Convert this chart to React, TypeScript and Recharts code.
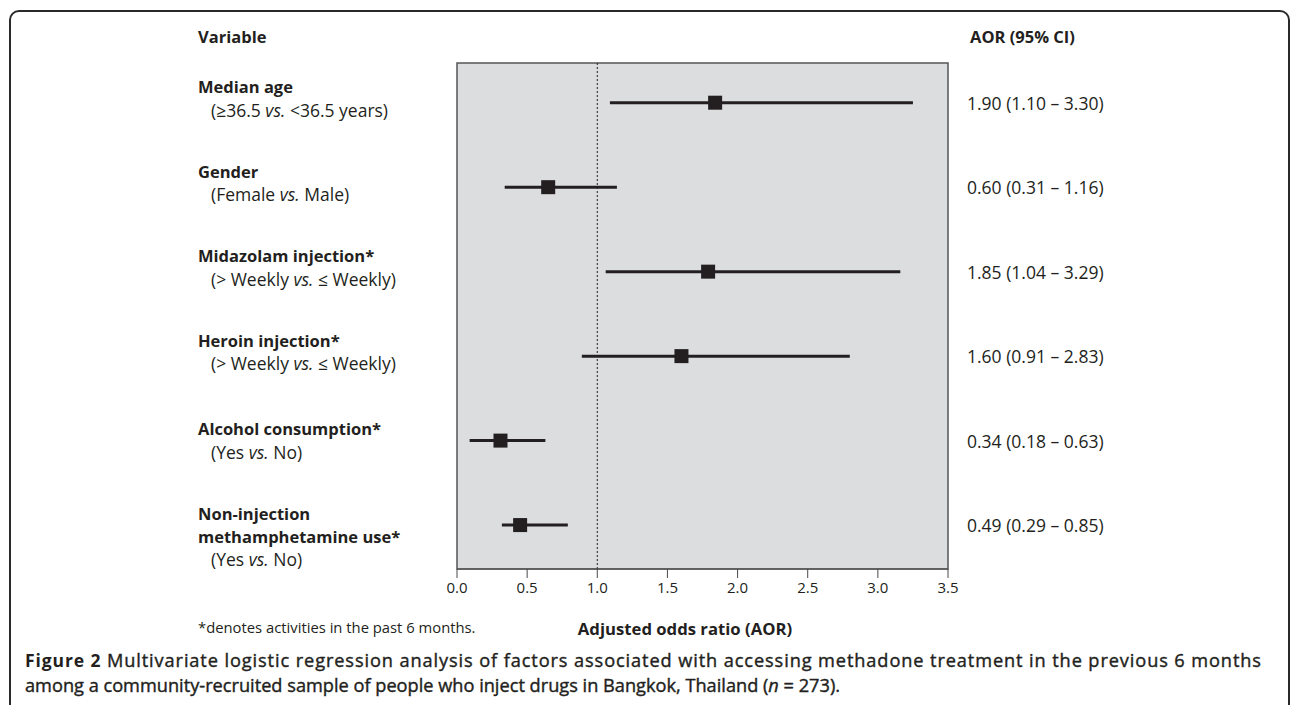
import React from 'react';
import { ComposedChart, Scatter, XAxis, YAxis, ReferenceLine, ReferenceArea, CartesianGrid } from 'recharts';

// ---- data ----
const variableTitles: string[][] = [
  ['Median age'],
  ['Gender'],
  ['Midazolam injection*'],
  ['Heroin injection*'],
  ['Alcohol consumption*'],
  ['Non-injection', 'methamphetamine use*'],
];
const compareLeft = ['≥36.5', 'Female', '> Weekly', '> Weekly', 'Yes', 'Yes'];
const compareRight = ['<36.5 years', 'Male', '≤ Weekly', '≤ Weekly', 'No', 'No'];
// positions of the marks
const aorValues = [1.84, 0.65, 1.79, 1.6, 0.31, 0.45];
const ciLower = [1.09, 0.34, 1.06, 0.89, 0.09, 0.32];
const ciUpper = [3.25, 1.14, 3.16, 2.8, 0.63, 0.79];
// printed estimates
const aorLabels = [
  '1.90 (1.10 – 3.30)',
  '0.60 (0.31 – 1.16)',
  '1.85 (1.04 – 3.29)',
  '1.60 (0.91 – 2.83)',
  '0.34 (0.18 – 0.63)',
  '0.49 (0.29 – 0.85)',
];
const xTicks = [0, 0.5, 1, 1.5, 2, 2.5, 3, 3.5];
const rowIndex = [0, 1, 2, 3, 4, 5];

const FONT = "'Open Sans', sans-serif";
const INK = '#231f20';
const Y_DOMAIN: [number, number] = [-0.47, 5.52];
const BOLD_SIZE = 16.5;
const REG_SIZE = 17.5;

const points = aorValues.map((v, i) => ({ x: v, y: i }));

const LeftTick = (props: any) => {
  const i = props.payload.value as number;
  const y = props.y as number;
  const first = y + (i >= 4 ? -12 : -16);
  const titles = variableTitles[i];
  const step = 23;
  return (
    <g>
      {titles.map((t, k) => (
        <text key={k} x={198} y={first + k * step} fill={INK} fontFamily={FONT} fontSize={BOLD_SIZE} fontWeight={700} dominantBaseline="central">
          {t}
        </text>
      ))}
      <text x={211} y={first + titles.length * step} fill={INK} fontFamily={FONT} fontSize={REG_SIZE} dominantBaseline="central">
        <tspan>{'(' + compareLeft[i] + ' '}</tspan>
        <tspan fontStyle="italic">vs.</tspan>
        <tspan>{' ' + compareRight[i] + ')'}</tspan>
      </text>
    </g>
  );
};

const RightTick = (props: any) => {
  const i = props.payload.value as number;
  return (
    <text x={967} y={props.y} fill={INK} fontFamily={FONT} fontSize={REG_SIZE} dominantBaseline="central">
      {aorLabels[i]}
    </text>
  );
};

const Square = (p: any) => <rect x={p.cx - 7} y={p.cy - 7} width={14} height={14} fill={INK} />;

export default function App() {
  return (
    <div style={{ position: 'absolute', left: 0, top: 0, width: 1290, height: 705, overflow: 'hidden', background: '#fff' }}>
      <div
        style={{
          position: 'absolute',
          left: 9,
          top: 10,
          width: 1281,
          height: 800,
          border: '2px solid #2a2a2a',
          borderRadius: 10,
          boxSizing: 'border-box',
        }}
      />
      <div style={{ position: 'absolute', left: 0, top: 0 }}>
        <ComposedChart width={1290} height={705} data={points} margin={{ top: 63, right: 341, bottom: 106, left: 456 }}>
          <CartesianGrid fill="#dcdddf" horizontal={false} vertical={false} />
          <XAxis
            type="number"
            dataKey="x"
            domain={[0, 3.5]}
            ticks={xTicks}
            allowDataOverflow
            interval={0}
            height={30}
            tickSize={9}
            tickMargin={4}
            tickFormatter={(v: number) => v.toFixed(1)}
            stroke="#4a4a4a"
            tick={{ fill: INK, fontSize: 15, fontFamily: FONT }}
          />
          <YAxis
            yAxisId="l"
            type="number"
            dataKey="y"
            domain={Y_DOMAIN}
            reversed
            allowDataOverflow
            ticks={rowIndex}
            interval={0}
            width={1}
            axisLine={false}
            tickLine={false}
            tick={<LeftTick />}
          />
          <YAxis
            yAxisId="r"
            orientation="right"
            type="number"
            domain={Y_DOMAIN}
            reversed
            allowDataOverflow
            ticks={rowIndex}
            interval={0}
            width={1}
            axisLine={false}
            tickLine={false}
            tick={<RightTick />}
          />
          <ReferenceArea yAxisId="l" x1={0} x2={3.5} y1={Y_DOMAIN[0]} y2={Y_DOMAIN[1]} fill="none" stroke="#555" strokeWidth={1.5} ifOverflow="visible" />
          <ReferenceLine yAxisId="l" x={1} stroke={INK} strokeWidth={1} strokeDasharray="2 2" />
          {rowIndex.map((i) => (
            <ReferenceLine
              key={i}
              yAxisId="l"
              segment={[
                { x: ciLower[i], y: i },
                { x: ciUpper[i], y: i },
              ]}
              stroke={INK}
              strokeWidth={3}
            />
          ))}
          <Scatter yAxisId="l" data={points} dataKey="y" shape={<Square />} isAnimationActive={false} />
        </ComposedChart>
      </div>
      <svg width={1290} height={705} style={{ position: 'absolute', left: 0, top: 0, pointerEvents: 'none' }}>
        <text x={198} y={36} fill={INK} fontFamily={FONT} fontSize={BOLD_SIZE} fontWeight={700} dominantBaseline="central">Variable</text>
        <text x={970} y={36} fill={INK} fontFamily={FONT} fontSize={BOLD_SIZE} fontWeight={700} dominantBaseline="central">AOR (95% CI)</text>
        <text x={198} y={627} fill={INK} fontFamily={FONT} fontSize={14.8} dominantBaseline="central">*denotes activities in the past 6 months.</text>
        <text x={685} y={628} fill={INK} fontFamily={FONT} fontSize={16.7} fontWeight={700} textAnchor="middle" dominantBaseline="central">Adjusted odds ratio (AOR)</text>
        <text x={25} y={660} fill={INK} fontFamily={FONT} fontSize={18.2} dominantBaseline="central" textLength={1236} lengthAdjust="spacing">
          <tspan fontWeight={700} fontSize={17.5}>Figure 2</tspan>
          <tspan stroke={INK} strokeWidth={0.4}> Multivariate logistic regression analysis of factors associated with accessing methadone treatment in the previous 6 months</tspan>
        </text>
        <text x={25} y={685} fill={INK} fontFamily={FONT} fontSize={18.2} stroke={INK} strokeWidth={0.4} dominantBaseline="central">
          among a community-recruited sample of people who inject drugs in Bangkok, Thailand (<tspan fontStyle="italic">n</tspan> = 273).
        </text>
      </svg>
    </div>
  );
}
